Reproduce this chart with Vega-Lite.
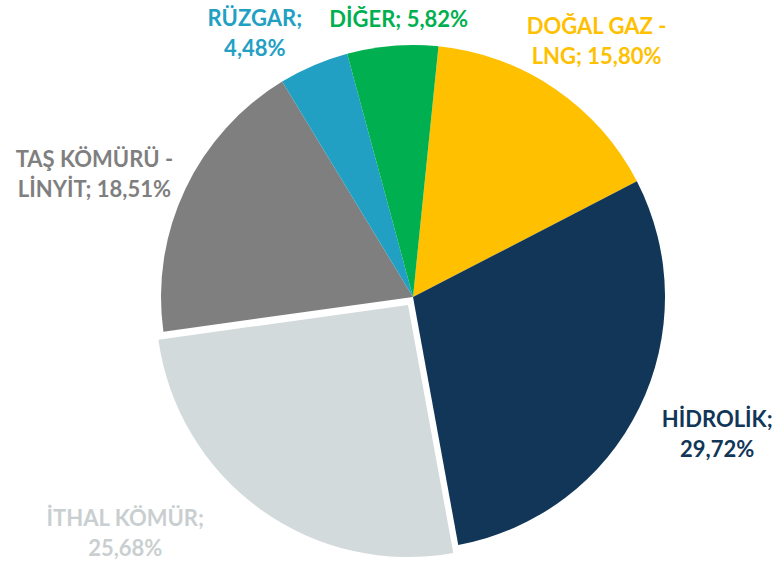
{
  "$schema": "https://vega.github.io/schema/vega-lite/v6.json",
  "width": 728,
  "height": 544,
  "autosize": {"type": "none"},
  "padding": {"left": 49, "top": 25, "right": 0, "bottom": 0},
  "background": "white",
  "config": {"view": {"stroke": null}},
  "data": {"values": [
    {"order": 1, "category": "DOĞAL GAZ - LNG", "value": 15.80, "label": "DOĞAL GAZ -\nLNG; 15,80%"},
    {"order": 2, "category": "HİDROLİK", "value": 29.72, "label": "HİDROLİK;\n29,72%"},
    {"order": 3, "category": "İTHAL KÖMÜR", "value": 25.68, "label": "İTHAL KÖMÜR;\n25,68%"},
    {"order": 4, "category": "TAŞ KÖMÜRÜ - LİNYİT", "value": 18.51, "label": "TAŞ KÖMÜRÜ -\nLİNYİT; 18,51%"},
    {"order": 5, "category": "RÜZGAR", "value": 4.48, "label": "RÜZGAR;\n4,48%"},
    {"order": 6, "category": "DİĞER", "value": 5.82, "label": "DİĞER; 5,82%"}
  ]},
  "transform": [
    {"stack": "value", "groupby": [], "sort": [{"field": "order"}], "as": ["start", "end"]},
    {"calculate": "(datum.start + datum.end) / 2", "as": "mid"}
  ],
  "layer": [
    {
      "transform": [{"filter": "datum.category !== 'İTHAL KÖMÜR'"}],
      "mark": {"type": "arc", "outerRadius": 252},
      "encoding": {
        "theta": {"field": "start", "type": "quantitative", "scale": {"domain": [0, 100.01], "range": [0.1012, 6.3844]}},
        "theta2": {"field": "end"},
        "color": {"field": "category", "type": "nominal", "legend": null,
          "scale": {"domain": ["DOĞAL GAZ - LNG", "HİDROLİK", "İTHAL KÖMÜR", "TAŞ KÖMÜRÜ - LİNYİT", "RÜZGAR", "DİĞER"],
                    "range": ["#FFC000", "#113657", "#D3DADB", "#7F7F7F", "#22A0C4", "#00B050"]}}
      }
    },
    {
      "transform": [{"filter": "datum.category === 'İTHAL KÖMÜR'"}],
      "mark": {"type": "arc", "outerRadius": 252, "xOffset": -5, "yOffset": 8},
      "encoding": {
        "theta": {"field": "start", "type": "quantitative", "scale": {"domain": [0, 100.01], "range": [0.1012, 6.3844]}},
        "theta2": {"field": "end"},
        "color": {"field": "category", "type": "nominal", "legend": null}
      }
    },
    {
      "transform": [{"filter": "datum.category === 'DOĞAL GAZ - LNG'"}],
      "mark": {"type": "text", "radius": 314, "thetaOffset": 0.027, "dy": -15, "font": "Lato", "fontSize": 22, "fontWeight": "bold", "color": "#FFC000", "lineBreak": "\n", "lineHeight": 30, "align": "center", "baseline": "middle"},
      "encoding": {"theta": {"field": "mid", "type": "quantitative", "stack": null, "scale": {"domain": [0, 100.01], "range": [0.1012, 6.3844]}}, "text": {"field": "label"}}
    },
    {
      "transform": [{"filter": "datum.category === 'HİDROLİK'"}],
      "mark": {"type": "text", "radius": 334, "thetaOffset": -0.031, "dy": -15, "font": "Lato", "fontSize": 22, "fontWeight": "bold", "color": "#113657", "lineBreak": "\n", "lineHeight": 30, "align": "center", "baseline": "middle"},
      "encoding": {"theta": {"field": "mid", "type": "quantitative", "stack": null, "scale": {"domain": [0, 100.01], "range": [0.1012, 6.3844]}}, "text": {"field": "label"}}
    },
    {
      "transform": [{"filter": "datum.category === 'İTHAL KÖMÜR'"}],
      "mark": {"type": "text", "radius": 373, "thetaOffset": 0.255, "dy": -15, "font": "Lato", "fontSize": 22, "fontWeight": "bold", "color": "#C9CFD0", "lineBreak": "\n", "lineHeight": 30, "align": "center", "baseline": "middle"},
      "encoding": {"theta": {"field": "mid", "type": "quantitative", "stack": null, "scale": {"domain": [0, 100.01], "range": [0.1012, 6.3844]}}, "text": {"field": "label"}}
    },
    {
      "transform": [{"filter": "datum.category === 'TAŞ KÖMÜRÜ - LİNYİT'"}],
      "mark": {"type": "text", "radius": 341, "thetaOffset": -0.079, "dy": -15, "font": "Lato", "fontSize": 22, "fontWeight": "bold", "color": "#7F7F7F", "lineBreak": "\n", "lineHeight": 30, "align": "center", "baseline": "middle"},
      "encoding": {"theta": {"field": "mid", "type": "quantitative", "stack": null, "scale": {"domain": [0, 100.01], "range": [0.1012, 6.3844]}}, "text": {"field": "label"}}
    },
    {
      "transform": [{"filter": "datum.category === 'RÜZGAR'"}],
      "mark": {"type": "text", "radius": 307, "thetaOffset": -0.136, "dy": -15, "font": "Lato", "fontSize": 22, "fontWeight": "bold", "color": "#22A0C4", "lineBreak": "\n", "lineHeight": 30, "align": "center", "baseline": "middle"},
      "encoding": {"theta": {"field": "mid", "type": "quantitative", "stack": null, "scale": {"domain": [0, 100.01], "range": [0.1012, 6.3844]}}, "text": {"field": "label"}}
    },
    {
      "transform": [{"filter": "datum.category === 'DİĞER'"}],
      "mark": {"type": "text", "radius": 277, "thetaOffset": 0.030, "font": "Lato", "fontSize": 22, "fontWeight": "bold", "color": "#00B050", "lineBreak": "\n", "lineHeight": 30, "align": "center", "baseline": "middle"},
      "encoding": {"theta": {"field": "mid", "type": "quantitative", "stack": null, "scale": {"domain": [0, 100.01], "range": [0.1012, 6.3844]}}, "text": {"field": "label"}}
    }
  ]
}
